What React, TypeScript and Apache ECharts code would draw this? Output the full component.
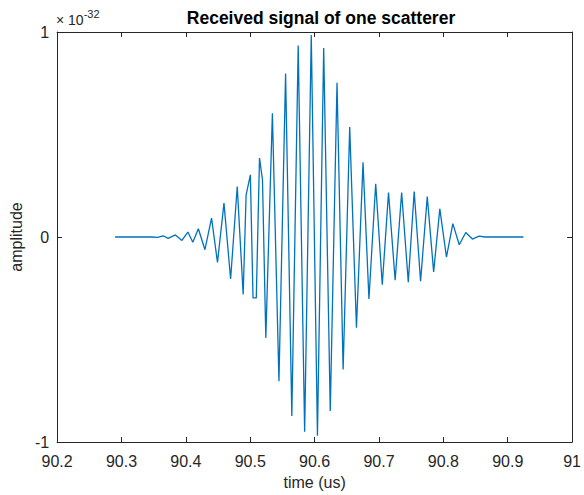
import React, { useEffect, useRef } from "react";
import * as echarts from "echarts";

// time in microseconds
const timeUs = [
  90.29, 90.347, 90.356, 90.3648, 90.3725, 90.3837, 90.3939, 90.4031, 90.4108, 90.4194,
  90.4296, 90.4399, 90.4491, 90.4592, 90.4695, 90.4798, 90.489, 90.4936, 90.5002, 90.5043,
  90.5094, 90.5144, 90.519, 90.5242, 90.5344, 90.5446, 90.5549, 90.5646, 90.5745, 90.5845,
  90.5948, 90.6044, 90.6141, 90.6243, 90.6348, 90.6443, 90.6545, 90.665, 90.6752, 90.6844,
  90.6949, 90.7051, 90.7148, 90.7251, 90.7352, 90.7455, 90.7547, 90.7646, 90.775, 90.7849,
  90.7945, 90.8048, 90.8147, 90.8247, 90.8348, 90.8451, 90.8554, 90.865, 90.9244,
];
// amplitude in units of 1e-32
const amplitude = [
  0, 0, -0.002, 0.006, -0.007, 0.01, -0.017, 0.024, -0.026, 0.04,
  -0.062, 0.092, -0.124, 0.165, -0.205, 0.246, -0.28, 0.206, 0.303, -0.297,
  -0.297, 0.385, 0.28, -0.492, 0.603, -0.703, 0.797, -0.873, 0.934, -0.95,
  0.985, -0.97, 0.922, -0.849, 0.752, -0.646, 0.537, -0.443, 0.364, -0.302,
  0.26, -0.233, 0.217, -0.211, 0.217, -0.22, 0.222, -0.216, 0.197, -0.17,
  0.137, -0.098, 0.065, -0.038, 0.022, -0.01, 0.004, 0, 0,
];
const xTicks = { min: 90.2, max: 91, interval: 0.1 };
const yTicks = { min: -1, max: 1, interval: 1 };
const titleText = "Received signal of one scatterer";
const xLabel = "time (us)";
const yLabel = "amplitude";

const FONT = "'Liberation Sans', Arial, Helvetica, sans-serif";
const TXT = "#262626";
const AX = "#262626";

export default function App() {
  const ref = useRef<HTMLDivElement>(null);
  useEffect(() => {
    if (!ref.current) return;
    const chart = echarts.init(ref.current, undefined, { renderer: "svg", width: 584, height: 495 });
    const data = timeUs.map((t, i) => [t, amplitude[i]]);
    const fmtX = (v: number) => {
      const r = Math.round(v * 10) / 10;
      return Number.isInteger(r) ? String(r) : r.toFixed(1);
    };
    const commonX = {
      type: "value" as const,
      min: xTicks.min,
      max: xTicks.max,
      interval: xTicks.interval,
      splitLine: { show: false },
      axisLine: { show: true, onZero: false, lineStyle: { color: AX, width: 1 } },
      axisTick: { show: true, inside: true, length: 5, lineStyle: { color: AX } },
    };
    const commonY = {
      type: "value" as const,
      min: yTicks.min,
      max: yTicks.max,
      interval: yTicks.interval,
      splitLine: { show: false },
      axisLine: { show: true, onZero: false, lineStyle: { color: AX, width: 1 } },
      axisTick: { show: true, inside: true, length: 5, lineStyle: { color: AX } },
    };
    chart.setOption({
      animation: false,
      backgroundColor: "#ffffff",
      title: {
        text: titleText,
        left: 316,
        textAlign: "center",
        top: 4,
        textStyle: { fontFamily: FONT, fontSize: 17.5, fontWeight: "bold", color: "#000" },
      },
      grid: { left: 54, right: 8, top: 32, bottom: 52 },
      xAxis: [
        {
          ...commonX,
          position: "bottom",
          name: xLabel,
          nameLocation: "middle",
          nameGap: 32,
          nameTextStyle: { fontFamily: FONT, fontSize: 16, color: TXT },
          axisLabel: { formatter: fmtX, fontFamily: FONT, fontSize: 16, color: TXT, margin: 11 },
        },
        { ...commonX, position: "top", axisLabel: { show: false } },
      ],
      yAxis: [
        {
          ...commonY,
          position: "left",
          name: yLabel,
          nameLocation: "middle",
          nameGap: 29,
          nameTextStyle: { fontFamily: FONT, fontSize: 16, color: TXT },
          axisLabel: { fontFamily: FONT, fontSize: 16, color: TXT, margin: 8 },
        },
        { ...commonY, position: "right", axisLabel: { show: false } },
      ],
      graphic: [
        {
          type: "text",
          left: 56,
          top: 8,
          style: {
            text: "{a|× 10}{b|-32}",
            rich: {
              a: { fontFamily: FONT, fontSize: 14, fill: TXT, padding: [6, 0, 0, 0] },
              b: { fontFamily: FONT, fontSize: 11, fill: TXT, padding: [0, 0, 7, 0] },
            },
          },
        },
      ],
      series: [
        {
          type: "line",
          data,
          showSymbol: false,
          symbol: "none",
          lineStyle: { color: "#0072BD", width: 1.3 },
          xAxisIndex: 0,
          yAxisIndex: 0,
        },
      ],
    });
    return () => chart.dispose();
  }, []);
  return (
    <div
      ref={ref}
      style={{ position: "fixed", left: 0, top: 0, width: 584, height: 495 }}
    />
  );
}
